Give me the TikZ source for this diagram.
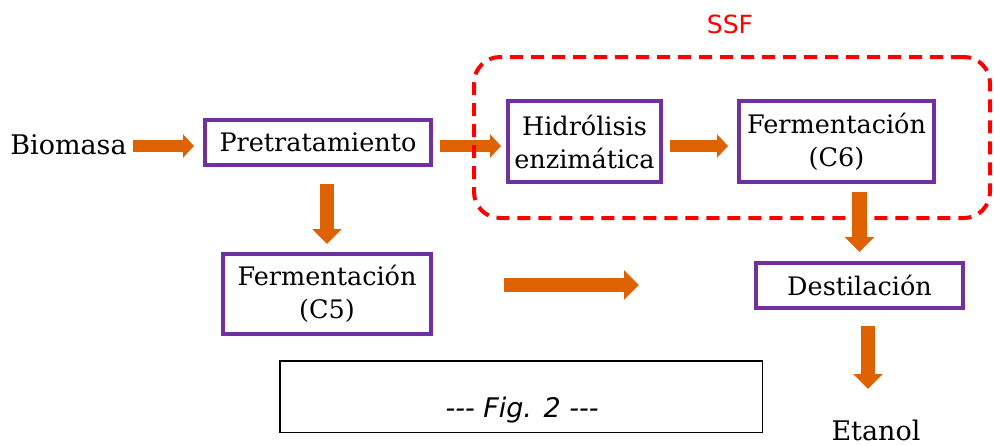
\documentclass[tikz,border=0pt]{standalone}
\usepackage{fontspec}
\setmainfont{DejaVu Serif}
\newfontfamily\sansf{DejaVu Sans}
\newfontfamily\figfont[Ligatures=TeXOff]{DejaVu Sans}
\usetikzlibrary{arrows.meta}
\definecolor{boxpurple}{RGB}{112,48,160}
\definecolor{arroworange}{RGB}{222,98,0}
\definecolor{ssfred}{RGB}{255,0,0}
\begin{document}
\begin{tikzpicture}[x=1pt,y=-1pt,
  proc/.style={draw=boxpurple, line width=4pt, fill=white, align=center,
    font=\fontsize{25.5}{33}\selectfont, inner sep=0pt},
  lbl/.style={font=\fontsize{27}{33}\selectfont, inner sep=0pt},
  flow/.style={draw=arroworange, line width=12pt,
    -{Triangle[width=23pt,length=11pt,fill=arroworange]}},
  bigflow/.style={draw=arroworange, line width=14.5pt,
    -{Triangle[width=29pt,length=15pt,fill=arroworange]}},
  ssfbox/.style={draw=ssfred, line width=4pt, dash pattern=on 13pt off 8pt,
    rounded corners=26pt, inner sep=0pt}
]
\useasboundingbox (0,0) rectangle (994,445);

% nodes
\node[lbl, anchor=base] (bio) at (68.5,154) {Biomasa};
\node[proc, minimum width=226pt, minimum height=45pt] (pre) at (318,142.5) {Pretratamiento};
\node[proc, minimum width=153pt, minimum height=81pt] (hid) at (584.5,141.5) {Hidrólisis\\enzimática};
\node[proc, minimum width=195pt, minimum height=81pt] (c6) at (836.5,141.5) {Fermentación\\(C6)};
\node[proc, minimum width=208pt, minimum height=80pt] (c5) at (327,294) {Fermentación\\(C5)};
\node[proc, minimum width=207pt, minimum height=45pt] (dest) at (859.5,285.5) {Destilación};
\node[lbl, anchor=base] (eta) at (876,440) {Etanol};
\node[font=\sansf\fontsize{25}{30}\selectfont, text=ssfred, inner sep=0pt] (ssflbl) at (730,24) {SSF};
\node[draw=black, line width=1.5pt, minimum width=482.5pt, minimum height=71.5pt, inner sep=0pt] (figbox) at (521,396.5) {};
\node[font=\figfont\itshape\fontsize{27}{30}\selectfont, inner sep=0pt] (figlbl) at (522,410) {--- Fig. 2 ---};

\coordinate (c5out) at (639,285);
\coordinate (etaIn) at (868,389);

% connectors
\draw[flow, shorten <=7pt, shorten >=5pt] (pre.east |- 0,146) -- (hid.west |- 0,146);
\node[ssfbox, minimum width=516pt, minimum height=161pt] (ssf) at (732,137.5) {};
\draw[flow, shorten <=6pt, shorten >=9pt] (bio.east |- 0,146) -- (pre.west |- 0,146);
\draw[flow, shorten <=7pt, shorten >=9pt] (hid.east |- 0,146) -- (c6.west |- 0,146);
\draw[bigflow, shorten <=17pt, shorten >=8pt] (pre.south -| c5.north) -- (c5.north);
\draw[bigflow, shorten <=71pt] (c5.east |- c5out) -- (c5out);
\draw[bigflow, shorten <=8pt, shorten >=9pt] (c6.south -| dest.north) -- (dest.north);
\draw[bigflow, shorten <=16pt] (dest.south -| etaIn) -- (etaIn);
\end{tikzpicture}
\end{document}
